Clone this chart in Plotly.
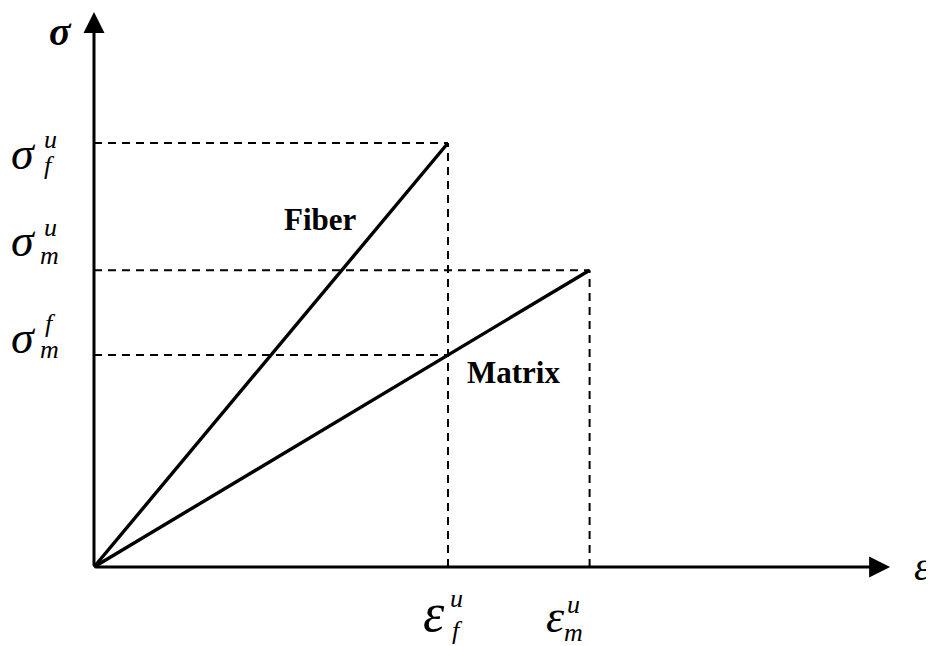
import plotly.graph_objects as go

# strain / stress values (normalised)
eps_f_u = 1.0      # fiber ultimate strain
eps_m_u = 1.4      # matrix ultimate strain
sig_f_u = 1.0      # fiber ultimate stress
sig_m_u = 0.7      # matrix ultimate stress
sig_m_f = 0.5      # matrix stress at fiber failure

fiber_x = [0, eps_f_u]
fiber_y = [0, sig_f_u]
matrix_x = [0, eps_m_u]
matrix_y = [0, sig_m_u]

# page has an 8px body margin, so the figure is a bit smaller than the window
OFF = 8
W, H = 934 - OFF, 646 - OFF
x_range = [-0.2429, 2.3729]
y_range = [-0.1863, 1.3184]
x_tip = 2.249
y_tip = 1.309

SERIF = "Liberation Serif"

fig = go.Figure()

# dashed guide lines
dash = dict(color="black", width=2, dash="8px,6px")
guides = [
    ([0, eps_f_u], [sig_f_u, sig_f_u]),
    ([0, eps_m_u], [sig_m_u, sig_m_u]),
    ([0, eps_f_u], [sig_m_f, sig_m_f]),
    ([eps_f_u, eps_f_u], [0, sig_f_u]),
    ([eps_m_u, eps_m_u], [0, sig_m_u]),
]
for gx, gy in guides:
    fig.add_trace(go.Scatter(x=gx, y=gy, mode="lines", line=dash, hoverinfo="skip"))

# stress-strain lines
fig.add_trace(go.Scatter(x=fiber_x, y=fiber_y, mode="lines",
                         line=dict(color="black", width=3.4), name="Fiber"))
fig.add_trace(go.Scatter(x=matrix_x, y=matrix_y, mode="lines",
                         line=dict(color="black", width=3.4), name="Matrix"))

annotations = []

# axes with arrows
for tx, ty in [(x_tip, 0), (0, y_tip)]:
    annotations.append(dict(x=tx, y=ty, ax=0, ay=0, xref="x", yref="y",
                            axref="x", ayref="y", text="", showarrow=True,
                            arrowhead=2, arrowsize=1.4, arrowwidth=3,
                            arrowcolor="black"))


def txt(px, py, s, size, bold=False):
    s = "<i>%s</i>" % s if not bold else s
    annotations.append(dict(x=(px - OFF) / W, y=1 - (py - OFF) / H,
                            xref="paper", yref="paper",
                            text=s, showarrow=False, xanchor="center",
                            yanchor="middle",
                            font=dict(family=SERIF, size=size, color="black",
                                      weight="bold" if bold else "normal")))


# axis titles
txt(60, 31, "<b>σ</b>", 40)
txt(922, 566, "ε", 40)

# y labels
txt(23, 153, "σ", 46); txt(50, 140, "u", 26); txt(49, 166, "f", 26)
txt(23, 240, "σ", 46); txt(50, 227, "u", 26); txt(49, 255, "m", 26)
txt(23, 337, "σ", 46); txt(50, 324, "f", 26); txt(49, 349, "m", 26)

# x labels
txt(434, 613, "ε", 54); txt(456, 598, "u", 26); txt(457, 630, "f", 26)
txt(555, 616, "ε", 46); txt(573, 604, "u", 26); txt(573, 632, "m", 26)

# curve labels
txt(320, 220, "Fiber", 31, bold=True)
txt(513, 372, "Matrix", 31, bold=True)

fig.update_layout(
    width=W, height=H,
    margin=dict(l=0, r=0, t=0, b=0),
    paper_bgcolor="white", plot_bgcolor="white",
    showlegend=False,
    xaxis=dict(range=x_range, visible=False, fixedrange=True),
    yaxis=dict(range=y_range, visible=False, fixedrange=True),
    annotations=annotations,
)

fig.write_html("out.html")
